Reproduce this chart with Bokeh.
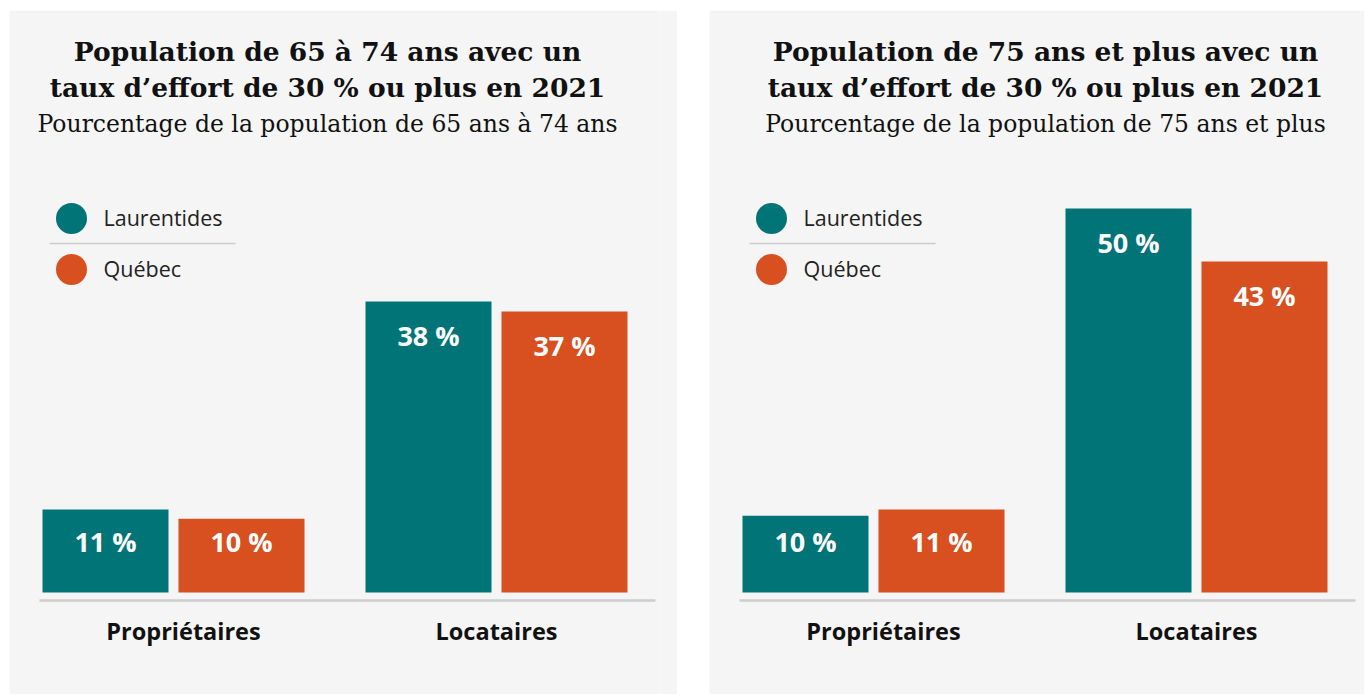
from bokeh.plotting import figure
from bokeh.models import (FactorRange, Range1d, ColumnDataSource, Spacer, Label,
                          BoxAnnotation)
from bokeh.layouts import row, column
from bokeh.core.properties import value
from bokeh.embed import file_html
from bokeh.resources import INLINE

# ---------------- data ----------------
categories = ["Propriétaires", "Locataires"]
series = ["Laurentides", "Québec"]

# Panel 1 : 65 à 74 ans (% de la population)
p1_laurentides = [10.8, 37.9]
p1_quebec = [9.6, 36.6]
# Panel 2 : 75 ans et plus
p2_laurentides = [10.0, 50.0]
p2_quebec = [10.8, 43.1]

p1_title = ["Population de 65 à 74 ans avec un",
            "taux d’effort de 30 % ou plus en 2021"]
p1_subtitle = "Pourcentage de la population de 65 ans à 74 ans"
p2_title = ["Population de 75 ans et plus avec un",
            "taux d’effort de 30 % ou plus en 2021"]
p2_subtitle = "Pourcentage de la population de 75 ans et plus"

# ---------------- style ----------------
colors = ["#017477", "#d84f20"]
BG = "#f5f5f5"
H = 684
FRAME_W = 651
PX_PER_PCT = 7.68
BASE_FROM_TOP = 582
UNIT = 136.0
BAR_W = 126 / UNIT
GROUP_PAD = 51 / UNIT
CAT_DX = [10, 0]
SERIF = "DejaVu Serif"
SANS = "Open Sans"


def make_panel(width, title_lines, subtitle, title_cx, laur, queb):
    n_bars = len(categories) * len(series)
    span = n_bars + (len(categories) - 1) * GROUP_PAD
    pad = (FRAME_W / UNIT - span) / 2
    factors = [(c, s) for c in categories for s in series]
    x_range = FactorRange(*factors, factor_padding=0, group_padding=GROUP_PAD,
                          range_padding=pad, range_padding_units="absolute")
    y_range = Range1d(-(H - BASE_FROM_TOP) / PX_PER_PCT, BASE_FROM_TOP / PX_PER_PCT)
    p = figure(width=width, height=H, x_range=x_range, y_range=y_range,
               output_backend="svg", toolbar_location=None,
               x_axis_location=None, y_axis_location=None,
               min_border=0, min_border_right=width - FRAME_W,
               background_fill_color=BG, border_fill_color=BG,
               outline_line_color=None)
    p.grid.visible = False
    # pixel-like vertical coordinate (0 = top of panel) for decorations
    p.extra_y_ranges = {"px": Range1d(H, 0)}

    vals = []
    cols = []
    for i, c in enumerate(categories):
        for j, s in enumerate(series):
            vals.append((laur, queb)[j][i])
            cols.append(colors[j])
    src = ColumnDataSource(dict(
        x=factors, top=vals, color=cols,
        label=[f"{round(v)} %" for v in vals],
        ly=[max(v - 4.4, 6.6) for v in vals],
    ))
    p.vbar(x="x", top="top", bottom=0, width=BAR_W, fill_color="color",
           line_color=None, source=src)
    p.text(x="x", y="ly", text="label", source=src, text_color="white",
           text_font=value(SANS), text_font_style="bold", text_font_size="27px",
           text_align="center", text_baseline="middle")

    # baseline rule
    p.add_layout(BoxAnnotation(left=30, right=646, left_units="screen", right_units="screen",
                               top=588.8, bottom=591.2, y_range_name="px",
                               fill_color="#cdcdcd", fill_alpha=1, line_color=None))

    # category labels
    p.text(x=categories, y=[620] * len(categories), text=categories,
           x_offset=CAT_DX, y_range_name="px", text_color="#111111",
           text_font=value(SANS), text_font_style="bold", text_font_size="23.5px",
           text_align="center", text_baseline="alphabetic")

    # titles
    for ty, t in zip([41, 77], title_lines):
        p.add_layout(Label(x=title_cx, y=ty, x_units="screen", y_range_name="px",
                           text=t, text_color="#111111", text_font=SERIF,
                           text_font_style="bold", text_font_size="26.5px",
                           text_align="center", text_baseline="alphabetic"))
    p.add_layout(Label(x=title_cx, y=113, x_units="screen", y_range_name="px",
                       text=subtitle, text_color="#111111", text_font=SERIF,
                       text_font_size="23.5px", text_align="center",
                       text_baseline="alphabetic"))

    # legend
    for ly, name, col in zip([208, 259], series, colors):
        p.add_layout(BoxAnnotation(left=46.5, right=77.5, left_units="screen",
                                   right_units="screen", top=ly - 15.5, bottom=ly + 15.5,
                                   y_range_name="px", border_radius=16,
                                   fill_color=col, fill_alpha=1, line_color=None))
        p.add_layout(Label(x=94, y=ly - 1, x_units="screen", y_range_name="px",
                           text=name, text_color="#222222", text_font=SANS,
                           text_font_size="21.5px", text_align="left",
                           text_baseline="middle"))
    p.add_layout(BoxAnnotation(left=40, right=226, left_units="screen", right_units="screen",
                               top=232.3, bottom=233.7, y_range_name="px",
                               fill_color="#cccccc", fill_alpha=1, line_color=None))
    return p


p1 = make_panel(668, p1_title, p1_subtitle, 318, p1_laurentides, p1_quebec)
p2 = make_panel(655, p2_title, p2_subtitle, 336, p2_laurentides, p2_quebec)

layout = column(Spacer(height=10),
                row(Spacer(width=9), p1, Spacer(width=32), p2))

with open("out.html", "w", encoding="utf-8") as f:
    f.write(file_html(layout, INLINE))
